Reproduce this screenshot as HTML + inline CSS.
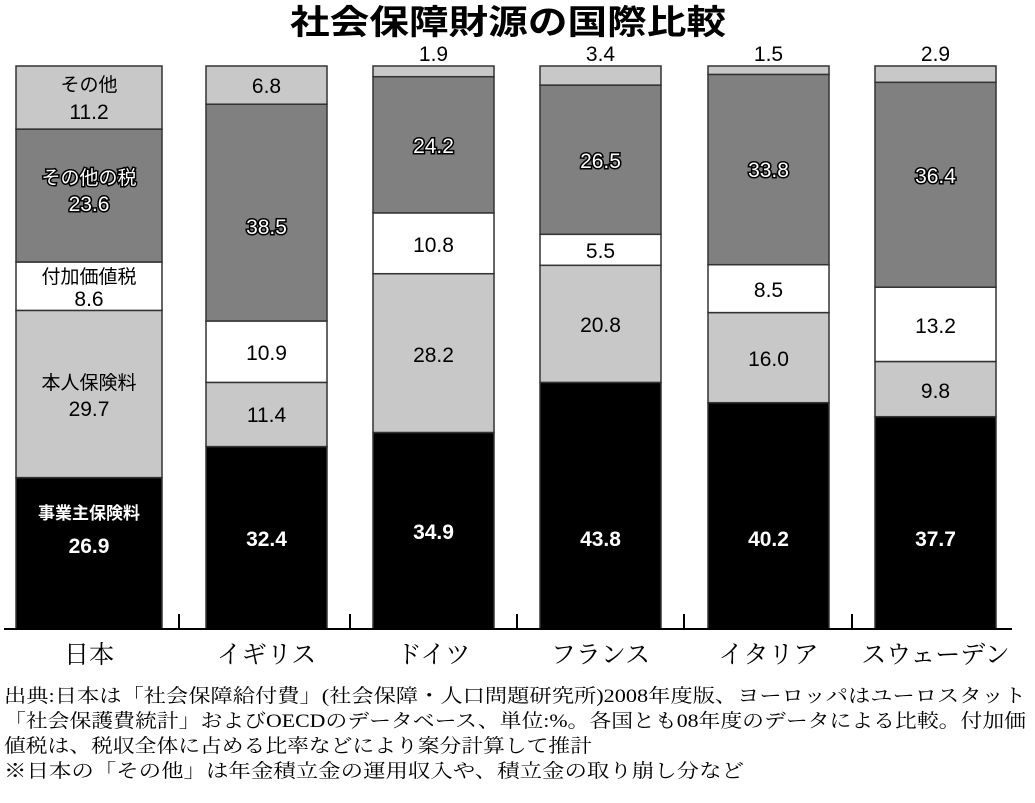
<!DOCTYPE html>
<html><head><meta charset="utf-8"><style>
body{margin:0;background:#fff}
svg{display:block}
.n{font-family:"Liberation Sans","Noto Sans CJK JP",sans-serif;font-size:21px;text-anchor:middle}
.o{fill:#fff;stroke:#000;stroke-width:3px;paint-order:stroke}
.w{fill:#fff}
.c{font-family:"Liberation Serif","Noto Serif CJK JP",serif;font-size:25px;text-anchor:middle}
.f{font-family:"Liberation Serif","Noto Serif CJK JP",serif;font-size:19px}
</style></head><body>
<svg width="1035" height="803" xmlns="http://www.w3.org/2000/svg">
<text x="290" y="34" textLength="436" lengthAdjust="spacingAndGlyphs" style="font-family:'Liberation Sans','Noto Sans CJK JP',sans-serif;font-size:34px;font-weight:bold">社会保障財源の国際比較</text>
<g stroke="#333" stroke-width="1.5">
<rect x="16" y="477.6" width="146" height="151.4" fill="#000"/>
<rect x="16" y="310.4" width="146" height="167.2" fill="#c8c8c8"/>
<rect x="16" y="262" width="146" height="48.4" fill="#fff"/>
<rect x="16" y="129.1" width="146" height="132.9" fill="#808080"/>
<rect x="16" y="66" width="146" height="63.1" fill="#c8c8c8"/>
<rect x="206" y="446.6" width="121" height="182.4" fill="#000"/>
<rect x="206" y="382.4" width="121" height="64.2" fill="#c8c8c8"/>
<rect x="206" y="321" width="121" height="61.4" fill="#fff"/>
<rect x="206" y="104.2" width="121" height="216.8" fill="#808080"/>
<rect x="206" y="66" width="121" height="38.2" fill="#c8c8c8"/>
<rect x="373" y="432.5" width="121" height="196.5" fill="#000"/>
<rect x="373" y="273.7" width="121" height="158.8" fill="#c8c8c8"/>
<rect x="373" y="212.9" width="121" height="60.8" fill="#fff"/>
<rect x="373" y="76.7" width="121" height="136.2" fill="#808080"/>
<rect x="373" y="66" width="121" height="10.7" fill="#c8c8c8"/>
<rect x="540" y="382.4" width="121" height="246.6" fill="#000"/>
<rect x="540" y="265.3" width="121" height="117.1" fill="#c8c8c8"/>
<rect x="540" y="234.3" width="121" height="31" fill="#fff"/>
<rect x="540" y="85.1" width="121" height="149.2" fill="#808080"/>
<rect x="540" y="66" width="121" height="19.1" fill="#c8c8c8"/>
<rect x="708" y="402.7" width="121" height="226.3" fill="#000"/>
<rect x="708" y="312.6" width="121" height="90.1" fill="#c8c8c8"/>
<rect x="708" y="264.7" width="121" height="47.9" fill="#fff"/>
<rect x="708" y="74.4" width="121" height="190.3" fill="#808080"/>
<rect x="708" y="66" width="121" height="8.4" fill="#c8c8c8"/>
<rect x="875" y="416.7" width="121" height="212.3" fill="#000"/>
<rect x="875" y="361.5" width="121" height="55.2" fill="#c8c8c8"/>
<rect x="875" y="287.2" width="121" height="74.3" fill="#fff"/>
<rect x="875" y="82.3" width="121" height="204.9" fill="#808080"/>
<rect x="875" y="66" width="121" height="16.3" fill="#c8c8c8"/>
</g>
<g stroke="#000" stroke-width="2">
<line x1="4" y1="629" x2="1012" y2="629"/>
<line x1="179" y1="629" x2="179" y2="614"/>
<line x1="350" y1="629" x2="350" y2="614"/>
<line x1="517" y1="629" x2="517" y2="614"/>
<line x1="684" y1="629" x2="684" y2="614"/>
<line x1="852" y1="629" x2="852" y2="614"/>
</g>
<text class="n" x="89" y="91" style="font-size:19px">その他</text>
<text class="n" x="89" y="119">11.2</text>
<text class="n o" x="89" y="184" style="font-size:19px">その他の税</text>
<text class="n o" x="89" y="211">23.6</text>
<text class="n" x="89" y="283" style="font-size:19px">付加価値税</text>
<text class="n" x="89" y="306">8.6</text>
<text class="n" x="89" y="389" style="font-size:19px">本人保険料</text>
<text class="n" x="89" y="416">29.7</text>
<text class="n w" x="89" y="519" style="font-size:17px;font-weight:bold">事業主保険料</text>
<text class="n w" x="89" y="553" style="font-weight:bold">26.9</text>
<text class="n" x="266.5" y="93">6.8</text>
<text class="n o" x="266.5" y="234">38.5</text>
<text class="n" x="266.5" y="360">10.9</text>
<text class="n" x="266.5" y="422">11.4</text>
<text class="n w" x="266.5" y="546" style="font-weight:bold">32.4</text>
<text class="n" x="433.5" y="61">1.9</text>
<text class="n o" x="433.5" y="153">24.2</text>
<text class="n" x="433.5" y="252">10.8</text>
<text class="n" x="433.5" y="362">28.2</text>
<text class="n w" x="433.5" y="539" style="font-weight:bold">34.9</text>
<text class="n" x="600.5" y="61">3.4</text>
<text class="n o" x="600.5" y="168">26.5</text>
<text class="n" x="600.5" y="258">5.5</text>
<text class="n" x="600.5" y="332">20.8</text>
<text class="n w" x="600.5" y="546" style="font-weight:bold">43.8</text>
<text class="n" x="768.5" y="61">1.5</text>
<text class="n o" x="768.5" y="177">33.8</text>
<text class="n" x="768.5" y="297">8.5</text>
<text class="n" x="768.5" y="366">16.0</text>
<text class="n w" x="768.5" y="546" style="font-weight:bold">40.2</text>
<text class="n" x="935.5" y="61">2.9</text>
<text class="n o" x="935.5" y="183">36.4</text>
<text class="n" x="935.5" y="333">13.2</text>
<text class="n" x="935.5" y="398">9.8</text>
<text class="n w" x="935.5" y="546" style="font-weight:bold">37.7</text>
<text class="c" x="89" y="663">日本</text>
<text class="c" x="266.5" y="663">イギリス</text>
<text class="c" x="433.5" y="663">ドイツ</text>
<text class="c" x="600.5" y="663">フランス</text>
<text class="c" x="768.5" y="663">イタリア</text>
<text class="c" x="935.5" y="663">スウェーデン</text>
<text class="f" x="4" y="702" textLength="1022" lengthAdjust="spacingAndGlyphs">出典:日本は「社会保障給付費」(社会保障・人口問題研究所)2008年度版、ヨーロッパはユーロスタット</text>
<text class="f" x="4" y="727" textLength="1022" lengthAdjust="spacingAndGlyphs">「社会保護費統計」およびOECDのデータベース、単位:%。各国とも08年度のデータによる比較。付加価</text>
<text class="f" x="4" y="752" textLength="588" lengthAdjust="spacingAndGlyphs">値税は、税収全体に占める比率などにより案分計算して推計</text>
<text class="f" x="4" y="777" textLength="740" lengthAdjust="spacingAndGlyphs">※日本の「その他」は年金積立金の運用収入や、積立金の取り崩し分など</text>
</svg>
</body></html>
